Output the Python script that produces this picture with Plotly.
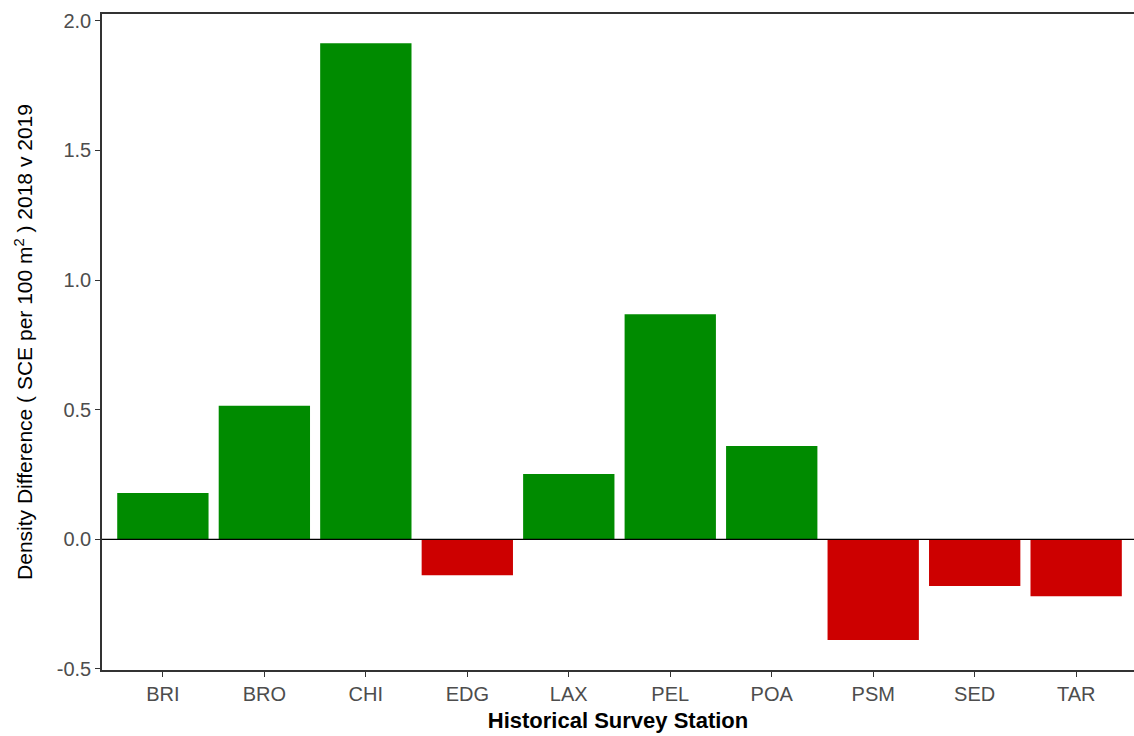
import plotly.graph_objects as go

stations = ["BRI", "BRO", "CHI", "EDG", "LAX", "PEL", "POA", "PSM", "SED", "TAR"]
differences = [0.179, 0.515, 1.913, -0.139, 0.252, 0.868, 0.360, -0.388, -0.180, -0.220]
y_ticks = [-0.5, 0.0, 0.5, 1.0, 1.5, 2.0]
y_tick_labels = ["-0.5", "0.0", "0.5", "1.0", "1.5", "2.0"]

colors = ["#008B00" if v >= 0 else "#CD0000" for v in differences]

fig = go.Figure()
fig.add_trace(go.Bar(
    x=stations, y=differences, width=0.9,
    marker=dict(color=colors, line=dict(width=0)),
    showlegend=False,
))
fig.add_hline(y=0, line=dict(color="black", width=1.2))

font_family = "Liberation Sans, Arial, sans-serif"
fig.update_layout(
    width=1134, height=736,
    margin=dict(l=102, r=0, t=14, b=66),
    paper_bgcolor="white", plot_bgcolor="white",
    bargap=0.1,
    font=dict(family=font_family, size=20, color="#4D4D4D"),
    xaxis=dict(
        range=[-0.6, 9.57],
        showline=True, linecolor="#333333", linewidth=1.5, mirror=True,
        ticks="outside", ticklen=5, tickcolor="#333333", tickwidth=1.2,
        tickfont=dict(size=20, color="#4D4D4D"),
        showgrid=False, zeroline=False,
        title=dict(text="<b>Historical Survey Station</b>", font=dict(size=22, color="black"), standoff=9),
    ),
    yaxis=dict(
        range=[-0.504, 2.026],
        tickvals=y_ticks, ticktext=y_tick_labels,
        showline=True, linecolor="#333333", linewidth=1.5,
        ticks="outside", ticklen=5, tickcolor="#333333", tickwidth=1.2,
        tickfont=dict(size=20, color="#4D4D4D"),
        showgrid=False, zeroline=False,
        title=dict(text="Density Difference ( SCE per 100 m<sup>2</sup> ) 2018 v 2019",
                   font=dict(size=21, color="black"), standoff=18),
    ),
)

fig.write_html("out.html", config={"displayModeBar": False},
               post_script="document.body.style.margin='0';")
